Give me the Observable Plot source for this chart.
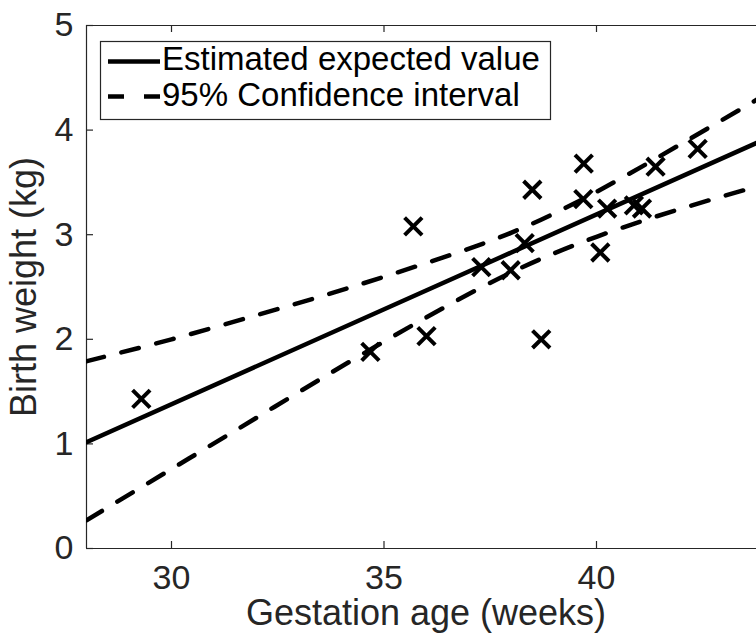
<!DOCTYPE html>
<html>
<head>
<meta charset="utf-8">
<script src="https://cdn.jsdelivr.net/npm/d3@7"></script>
<script src="https://cdn.jsdelivr.net/npm/@observablehq/plot@0.6"></script>
<style>
  html, body { margin: 0; padding: 0; background: #fff; overflow: hidden; }
  #chart { position: relative; width: 756px; height: 635px; }
</style>
</head>
<body>
<div id="chart"></div>
<script>
// Observations: gestation age (weeks) and birth weight (kg)
const gestationWeeks = [29.29, 34.68, 35.69, 36.00, 37.29, 37.98, 38.31, 38.49, 38.70, 39.69, 39.70, 40.09, 40.25, 40.88, 41.07, 41.39, 42.38];
const birthWeightKg  = [1.43, 1.88, 3.08, 2.03, 2.69, 2.66, 2.92, 3.43, 2.00, 3.34, 3.68, 2.83, 3.25, 3.28, 3.25, 3.65, 3.82];

// Estimated expected value (fitted line), read at the plot edges
const fitX = [28, 43.77];
const fitY = [1.016, 3.878];

// 95% confidence interval bounds
const ciX     = [28, 30, 32, 34, 36, 38, 40, 42, 43.77];
const ciUpper = [1.79, 2.00, 2.23, 2.47, 2.73, 3.02, 3.41, 3.87, 4.29];
const ciLower = [0.27, 0.76, 1.25, 1.74, 2.21, 2.64, 2.98, 3.25, 3.46];

// Axis ticks and labels
const xTicks = [30, 35, 40];
const yTicks = [0, 1, 2, 3, 4, 5];
const xLabel = "Gestation age (weeks)";
const yLabel = "Birth weight (kg)";
const legendLabels = ["Estimated expected value", "95% Confidence interval"];

const points = gestationWeeks.map((w, i) => ({w, kg: birthWeightKg[i]}));
const fit = fitX.map((x, i) => ({x, y: fitY[i]}));
const upper = ciX.map((x, i) => ({x, y: ciUpper[i]}));
const lower = ciX.map((x, i) => ({x, y: ciLower[i]}));

const W = 756, H = 635;
const mL = 86, mR = 0, mT = 25, mB = 87;
const plotW = W - mL - mR, plotH = H - mT - mB;
const axisColor = "#262626";
const font = "'Liberation Sans', Arial, Helvetica, sans-serif";

const svg = Plot.plot({
  width: W,
  height: H,
  marginLeft: mL,
  marginRight: mR,
  marginTop: mT,
  marginBottom: mB,
  style: {fontFamily: font, fontSize: "34px", color: axisColor, background: "#fff", overflow: "visible"},
  x: {domain: [28, 28 + plotW / 42.5], ticks: xTicks},
  y: {domain: [0, 5], ticks: yTicks},
  marks: [
    Plot.axisX({ticks: xTicks, tickSize: 0, tickPadding: 16, label: null, fill: axisColor, tickFormat: d3.format("d")}),
    Plot.axisY({ticks: yTicks, tickSize: 0, tickPadding: 13, label: null, fill: axisColor, tickFormat: d3.format("d")}),
    Plot.ruleX([28], {stroke: axisColor, strokeWidth: 1.2}),
    Plot.ruleY([0, 5], {stroke: axisColor, strokeWidth: 1.2}),
    Plot.tickX(xTicks, {x: d => d, insetTop: plotH - 7, stroke: axisColor, strokeWidth: 1.2}),
    Plot.tickX(xTicks, {x: d => d, insetBottom: plotH - 7, stroke: axisColor, strokeWidth: 1.2}),
    Plot.tickY(yTicks, {y: d => d, insetRight: plotW - 7, stroke: axisColor, strokeWidth: 1.2}),
    Plot.line(upper, {x: "x", y: "y", curve: "natural", stroke: "#000", strokeWidth: 4.5, strokeDasharray: "18,18", clip: true}),
    Plot.line(lower, {x: "x", y: "y", curve: "natural", stroke: "#000", strokeWidth: 4.5, strokeDasharray: "18,18", clip: true}),
    Plot.line(fit, {x: "x", y: "y", stroke: "#000", strokeWidth: 4.5, clip: true}),
    Plot.dot(points, {x: "w", y: "kg", symbol: "times", r: 8, stroke: "#000", strokeWidth: 4})
  ]
});

const s = d3.select(svg);

// Axis titles
s.append("text")
  .attr("x", 426).attr("y", 625)
  .attr("text-anchor", "middle")
  .attr("font-family", font).attr("font-size", 36)
  .attr("fill", axisColor)
  .text(xLabel);

s.append("text")
  .attr("transform", "translate(36,287) rotate(-90)")
  .attr("text-anchor", "middle")
  .attr("font-family", font).attr("font-size", 36)
  .attr("fill", axisColor)
  .text(yLabel);

// Legend
const lg = s.append("g");
lg.append("rect")
  .attr("x", 100.5).attr("y", 41.5).attr("width", 450).attr("height", 78)
  .attr("fill", "#fff").attr("stroke", axisColor).attr("stroke-width", 1.2);
lg.append("line")
  .attr("x1", 108).attr("x2", 160).attr("y1", 61.5).attr("y2", 61.5)
  .attr("stroke", "#000").attr("stroke-width", 4.5);
lg.append("line")
  .attr("x1", 108).attr("x2", 160).attr("y1", 96.5).attr("y2", 96.5)
  .attr("stroke", "#000").attr("stroke-width", 4.5).attr("stroke-dasharray", "16,20");
lg.append("text")
  .attr("x", 162).attr("y", 70)
  .attr("text-anchor", "start")
  .attr("font-family", font).attr("font-size", 33).attr("fill", "#000")
  .text(legendLabels[0]);
lg.append("text")
  .attr("x", 162).attr("y", 106)
  .attr("text-anchor", "start")
  .attr("font-family", font).attr("font-size", 33).attr("fill", "#000")
  .text(legendLabels[1]);

document.getElementById("chart").appendChild(svg);
</script>
</body>
</html>
